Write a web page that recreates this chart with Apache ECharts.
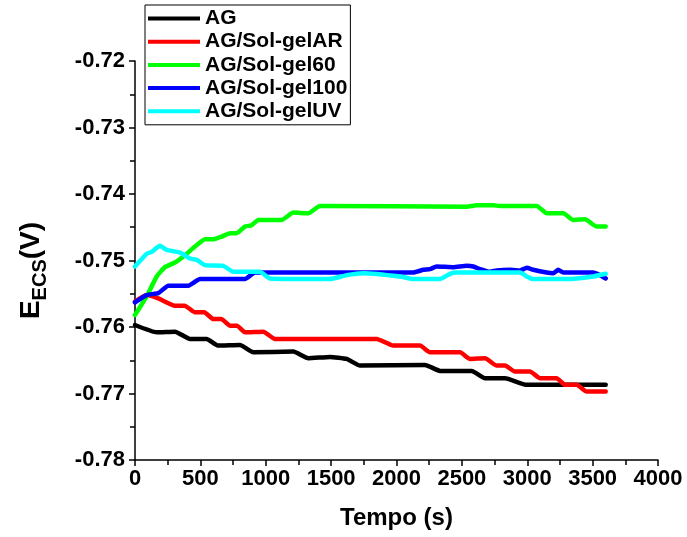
<!DOCTYPE html>
<html>
<head>
<meta charset="utf-8">
<script src="https://cdn.jsdelivr.net/npm/echarts@6/dist/echarts.min.js"></script>
<style>html,body{margin:0;padding:0;background:#fff}#c{width:687px;height:537px}</style>
</head>
<body>
<div id="c"></div>
<script>
var seriesNames = ['AG', 'AG/Sol-gelAR', 'AG/Sol-gel60', 'AG/Sol-gel100', 'AG/Sol-gelUV'];
var seriesColors = ['#000000', '#ff0000', '#00ff00', '#0000ff', '#00ffff'];

var tAG = [0, 166, 306, 421, 548, 637, 803, 905, 1211, 1326, 1491, 1619, 1721, 2218, 2333, 2575, 2677, 2830, 2996, 3600];
var vAG = [-0.7597, -0.7608, -0.7607, -0.7618, -0.7618, -0.7628, -0.7627, -0.7638, -0.7637, -0.7647, -0.7645, -0.7648, -0.7658, -0.7657, -0.7666, -0.7666, -0.7677, -0.7677, -0.7687, -0.7687];

var tAR = [0, 89, 178, 306, 380, 459, 530, 599, 660, 727, 780, 841, 981, 1071, 1849, 1975, 2180, 2256, 2486, 2562, 2677, 2766, 2830, 2906, 3021, 3098, 3225, 3289, 3378, 3455, 3600];
var vAR = [-0.7562, -0.7552, -0.7557, -0.7568, -0.7568, -0.7578, -0.7578, -0.7588, -0.7588, -0.7598, -0.7598, -0.7608, -0.7607, -0.7618, -0.7618, -0.7628, -0.7628, -0.7638, -0.7638, -0.7648, -0.7647, -0.7658, -0.7658, -0.7667, -0.7667, -0.7677, -0.7677, -0.7687, -0.7687, -0.7697, -0.7697];

var t60 = [0, 89, 166, 229, 306, 382, 459, 535, 599, 663, 727, 778, 841, 892, 943, 1122, 1211, 1326, 1415, 2536, 2613, 2740, 2792, 3072, 3149, 3276, 3352, 3442, 3531, 3600];
var v60 = [-0.7582, -0.7554, -0.7524, -0.7510, -0.7503, -0.7492, -0.7479, -0.7468, -0.7468, -0.7464, -0.7459, -0.7459, -0.7449, -0.7447, -0.7439, -0.7439, -0.7428, -0.7429, -0.7418, -0.7419, -0.7417, -0.7417, -0.7418, -0.7418, -0.7429, -0.7429, -0.7439, -0.7438, -0.7449, -0.7449];

var t100 = [0, 89, 178, 255, 408, 497, 841, 918, 2129, 2205, 2256, 2307, 2434, 2536, 2587, 2639, 2715, 2766, 2868, 2945, 2996, 3046, 3149, 3199, 3237, 3276, 3505, 3556, 3600];
var v100 = [-0.7563, -0.7552, -0.7549, -0.7538, -0.7538, -0.7528, -0.7528, -0.7518, -0.7518, -0.7514, -0.7513, -0.7509, -0.7510, -0.7508, -0.7509, -0.7513, -0.7517, -0.7515, -0.7514, -0.7515, -0.7511, -0.7514, -0.7518, -0.7519, -0.7514, -0.7518, -0.7518, -0.7522, -0.7527];

var tUV = [0, 89, 127, 191, 242, 344, 421, 472, 535, 675, 752, 956, 1032, 1491, 1619, 1746, 2027, 2129, 2332, 2409, 2460, 2945, 2996, 3046, 3301, 3505, 3600];
var vUV = [-0.7509, -0.7490, -0.7487, -0.7478, -0.7484, -0.7488, -0.7497, -0.7499, -0.7507, -0.7508, -0.7517, -0.7517, -0.7527, -0.7528, -0.7522, -0.7519, -0.7524, -0.7528, -0.7528, -0.7520, -0.7518, -0.7518, -0.7524, -0.7528, -0.7528, -0.7524, -0.7520];

var xTicks = [0, 500, 1000, 1500, 2000, 2500, 3000, 3500, 4000];
var yTicks = [-0.78, -0.77, -0.76, -0.75, -0.74, -0.73, -0.72];

function pairs(t, v) { return t.map(function (x, i) { return [x, v[i]]; }); }
var allT = [tAG, tAR, t60, t100, tUV];
var allV = [vAG, vAR, v60, v100, vUV];

var FONT = '"Liberation Sans", Arial, sans-serif';
var chart = echarts.init(document.getElementById('c'), null, { renderer: 'canvas' });
chart.setOption({
  backgroundColor: '#ffffff',
  animation: false,
  grid: { left: 135, right: 29, top: 61, bottom: 77, containLabel: false },
  legend: {
    orient: 'vertical',
    left: 145, top: 5,
    data: seriesNames.map(function (n) { return { name: n, icon: 'rect' }; }),
    itemWidth: 52, itemHeight: 4, itemGap: 2.2,
    padding: [3, 3, 3, 3],
    borderColor: '#000', borderWidth: 1, backgroundColor: '#fff',
    textStyle: { fontFamily: FONT, fontWeight: 'bold', fontSize: 21, color: '#000', lineHeight: 20.3 }
  },
  xAxis: {
    type: 'value', min: xTicks[0], max: xTicks[xTicks.length - 1], interval: 500,
    name: 'Tempo (s)', nameLocation: 'middle', nameGap: 46,
    nameTextStyle: { fontFamily: FONT, fontWeight: 'bold', fontSize: 24, color: '#000' },
    axisLine: { show: true, onZero: false, lineStyle: { color: '#000', width: 1.5 } },
    axisTick: { show: true, inside: false, length: 6, lineStyle: { color: '#000', width: 1.5 } },
    minorTick: { show: true, splitNumber: 2, length: 5, lineStyle: { color: '#000', width: 1.5 } },
    axisLabel: { fontFamily: FONT, fontWeight: 'bold', fontSize: 22, color: '#000', margin: 8,
      formatter: function (v) { return String(v); } },
    splitLine: { show: false }
  },
  yAxis: {
    type: 'value', min: yTicks[0], max: yTicks[yTicks.length - 1], interval: 0.01,
    name: '{a|E}{b|ECS}{a|(V)}', nameLocation: 'middle', nameGap: 90, nameRotate: 90,
    nameTextStyle: {
      fontFamily: FONT, fontWeight: 'bold', color: '#000', padding: [0, 20, 0, 0],
      rich: {
        a: { fontFamily: FONT, fontWeight: 'bold', fontSize: 28, color: '#000', lineHeight: 32, verticalAlign: 'bottom' },
        b: { fontFamily: FONT, fontWeight: 'bold', fontSize: 20, color: '#000', lineHeight: 32, verticalAlign: 'bottom', padding: [0, 0, -5, 0] }
      }
    },
    axisLine: { show: true, onZero: false, lineStyle: { color: '#000', width: 1.5 } },
    axisTick: { show: true, inside: false, length: 6, lineStyle: { color: '#000', width: 1.5 } },
    minorTick: { show: true, splitNumber: 2, length: 5, lineStyle: { color: '#000', width: 1.5 } },
    axisLabel: { fontFamily: FONT, fontWeight: 'bold', fontSize: 22, color: '#000', margin: 10,
      formatter: function (v) { return v.toFixed(2); } },
    splitLine: { show: false }
  },
  series: seriesNames.map(function (n, i) {
    return {
      name: n, type: 'line', data: pairs(allT[i], allV[i]),
      showSymbol: false, symbol: 'none', smooth: 0.15,
      color: seriesColors[i],
      lineStyle: { color: seriesColors[i], width: 4.5, join: 'round', cap: 'round' },
      itemStyle: { color: seriesColors[i] }
    };
  })
});
</script>
</body>
</html>
